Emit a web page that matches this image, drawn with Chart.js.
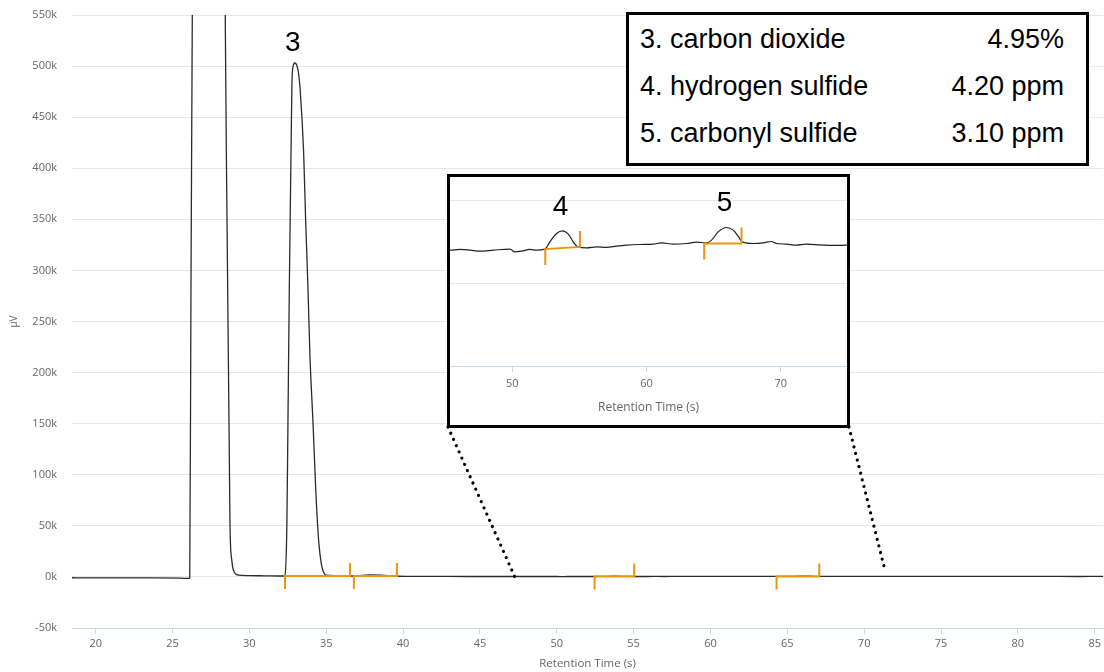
<!DOCTYPE html>
<html>
<head>
<meta charset="utf-8">
<script src="https://cdn.jsdelivr.net/npm/chart.js@4"></script>
<style>
  body { margin: 0; background: #fff; }
  #wrap { position: relative; width: 1104px; height: 672px; overflow: hidden; }
  #chart { position: absolute; left: 0; top: 0; }
  #inset {
    position: absolute; left: 447px; top: 174px; width: 403px; height: 254px;
    box-sizing: border-box; border: 3px solid #000; background: #fff; overflow: hidden;
  }
  #inset canvas { position: absolute; left: 0; top: 0; }
  #legend {
    position: absolute; left: 626px; top: 12px; width: 463px; height: 154px;
    box-sizing: border-box; border: 3px solid #000; background: #fff;
    padding: 1px 22px 0 11px;
    font-family: "Liberation Sans", Arial, sans-serif; font-size: 27px; color: #000;
  }
  #legend .row { display: flex; justify-content: space-between; height: 47px; line-height: 47px; }
</style>
</head>
<body>
<div id="wrap">
  <canvas id="chart" width="1104" height="672"></canvas>
  <div id="inset"><canvas id="zoom" width="397" height="248"></canvas></div>
  <div id="legend"></div>
</div>
<script>
// chromatogram trace (retention time in s, signal in µV)
const timeS = [
  18.4, 19.5, 21, 22.5, 24, 25.5, 26.0, 26.12,
  26.2, 26.29, 26.6, 27.3, 28.1, 28.43, 28.74, 28.86, 29.0, 29.3, 30.0, 31.0, 32.0, 32.2,
  32.31, 32.44, 32.51, 32.6, 32.71, 32.77, 32.85, 32.95, 33.08, 33.2, 33.3, 33.53, 33.66,
  33.81, 33.94, 34.14, 34.32, 34.51, 34.69, 34.85, 35.0, 35.6, 36.4, 37.0, 37.8, 38.6, 39.4,
  40.2, 41.5, 43.0, 44.3,
  45.37, 46.1, 46.85, 47.6, 48.6, 49.83, 50.2, 50.7, 51.3, 51.8, 52.43, 52.8, 53.3, 53.75,
  54.17, 54.54, 54.9, 55.54, 56.28, 57.03, 57.77, 58.5, 59.5, 60.5, 61.12, 62.0, 63.0,
  63.73, 64.47, 64.85, 65.34, 65.96, 66.46, 66.83, 67.16, 67.95, 68.7, 69.3, 69.7, 70.43,
  71.18, 71.9, 72.9, 73.9, 74.9, 76.0, 78.0, 80.0, 82.0, 84.0, 85.7,
];
const signalUV = [
  -800, -900, -900, -1000, -1000, -1200, -1500, -1200,
  280000, 560000, 1200000, 1600000, 1200000, 550000, 50000, 16000, 5000, 1800, 1300, 1100, 900, 900,
  1500, 51000, 151000, 284000, 416000, 483000, 500000, 503000, 501000, 493000, 478000, 416000, 350000,
  284000, 217000, 151000, 85000, 35000, 12000, 4000, 1700, 1200, 900, 1100, 1900, 1700, 900,
  600, 500, 450, 420,
  398, 406, 398, 386, 398, 410, 377, 386, 406, 398, 410, 498, 599, 630,
  590, 498, 437, 425, 437, 430, 446, 458, 466, 470, 486, 470, 478,
  494, 486, 518, 618, 671, 639, 566, 494, 478, 486, 502, 478, 470,
  458, 470, 462, 454, 458, 450, 440, 450, 440, 430, 440,
];

// integration baselines drawn by the software (start / end time, baseline level)
const intStart = [32.32, 36.8, 52.46, 64.3];
const intEnd = [36.55, 39.6, 55.04, 67.08];
const intBaseStart = [1000, 1000, 410, 478];
const intBaseEnd = [1000, 1000, 437, 478];

// numbered peaks
const peakNames = ["3", "4", "5"];
const peakTimes = [32.95, 53.75, 65.96];
const peakHeights = [503000, 630, 671];

// compounds table
const compounds = ["3. carbon dioxide", "4. hydrogen sulfide", "5. carbonyl sulfide"];
const amounts = ["4.95%", "4.20 ppm", "3.10 ppm"];

// axis ticks
const xTickValues = [20, 25, 30, 35, 40, 45, 50, 55, 60, 65, 70, 75, 80, 85];
const zoomXTicks = [50, 60, 70];
const zoomYTicks = [-1000, 0, 1000];

// where the zoom box is taken from on the main axis
const zoomEdges = [47.27, 71.33];
const zoomEdgeLevels = [0, 8000];

const points = timeS.map((t, i) => ({ x: t, y: signalUV[i] }));

// legend box
document.querySelector("#legend").innerHTML = compounds
  .map((c, i) => `<div class="row"><span>${c}</span><span>${amounts[i]}</span></div>`)
  .join("");

const axisFont = { family: "'Open Sans', sans-serif", size: 11 };

// orange integration marks
const integrationMarks = {
  id: "integrationMarks",
  afterDatasetsDraw(chart, args, opts) {
    const { ctx, chartArea, scales: { x, y } } = chart;
    ctx.save();
    ctx.beginPath();
    ctx.rect(chartArea.left, chartArea.top, chartArea.width, chartArea.height + 20);
    ctx.clip();
    ctx.strokeStyle = "#e8960f";
    ctx.lineWidth = 2;
    intStart.forEach((t0, i) => {
      const x0 = x.getPixelForValue(t0);
      const x1 = x.getPixelForValue(intEnd[i]);
      const y0 = y.getPixelForValue(intBaseStart[i]);
      const y1 = y.getPixelForValue(intBaseEnd[i]);
      ctx.beginPath();
      ctx.moveTo(x0, y0 + opts.tick);
      ctx.lineTo(x0, y0);
      ctx.lineTo(x1, y1);
      ctx.lineTo(x1, y1 - opts.tick);
      ctx.stroke();
    });
    ctx.restore();
  },
};

// big peak numbers
const peakNumbers = {
  id: "peakNumbers",
  afterDatasetsDraw(chart, args, opts) {
    const { ctx, scales: { x, y } } = chart;
    ctx.save();
    ctx.font = "28px 'Liberation Sans', Arial, sans-serif";
    ctx.fillStyle = "#000";
    ctx.textAlign = "center";
    ctx.textBaseline = "alphabetic";
    opts.show.forEach((i) => {
      const px = x.getPixelForValue(peakTimes[i]) - 2;
      const py = y.getPixelForValue(peakHeights[i]) - opts.gap;
      ctx.fillText(peakNames[i], px, py);
    });
    ctx.restore();
  },
};

// dotted lines from the zoom box down to the axis
const connectors = {
  id: "connectors",
  afterDraw(chart) {
    const { ctx, scales: { x, y } } = chart;
    const box = document.querySelector("#inset");
    const bottom = box.offsetTop + box.offsetHeight - 1;
    const corners = [box.offsetLeft + 1, box.offsetLeft + box.offsetWidth - 1];
    ctx.save();
    ctx.strokeStyle = "#000";
    ctx.lineWidth = 3.2;
    ctx.lineCap = "round";
    ctx.setLineDash([0.01, 6.8]);
    zoomEdges.forEach((t, i) => {
      ctx.beginPath();
      ctx.moveTo(corners[i], bottom);
      ctx.lineTo(x.getPixelForValue(t), y.getPixelForValue(zoomEdgeLevels[i]));
      ctx.stroke();
    });
    ctx.restore();
  },
};

// main chromatogram
new Chart(document.querySelector("#chart"), {
  type: "line",
  data: {
    datasets: [
      {
        data: points,
        borderColor: "#2b2b2b",
        borderWidth: 1.3,
        pointRadius: 0,
        cubicInterpolationMode: "monotone",
      },
    ],
  },
  options: {
    responsive: false,
    animation: false,
    layout: { padding: { top: 15, right: 0, left: 0, bottom: 0 } },
    plugins: {
      legend: { display: false },
      tooltip: { enabled: false },
      integrationMarks: { tick: 13 },
      peakNumbers: { show: [0], gap: 12 },
    },
    scales: {
      x: {
        type: "linear",
        min: 18.46,
        max: 85.55,
        afterBuildTicks: (s) => { s.ticks = xTickValues.map((v) => ({ value: v })); },
        afterFit: (s) => { s.height = 44; },
        ticks: { color: "#666", font: axisFont, padding: 3, maxRotation: 0 },
        grid: { drawOnChartArea: false, color: "#ccd6eb", tickLength: 6 },
        border: { color: "#ccd6eb" },
        title: {
          display: true,
          text: "Retention Time (s)",
          color: "#666",
          font: { family: "'Open Sans', sans-serif", size: 11.5 },
          padding: { top: 0, bottom: 1 },
        },
      },
      y: {
        min: -50000,
        max: 550000,
        afterFit: (s) => {
          s.width = 72;
          s.paddingTop = 0;
          s.paddingBottom = 0;
        },
        ticks: {
          stepSize: 50000,
          color: "#666",
          font: axisFont,
          padding: 15,
          callback: (v) => v / 1000 + "k",
        },
        grid: { color: "#e6e6e6", drawTicks: false },
        border: { display: false },
        title: {
          display: true,
          text: "µV",
          color: "#666",
          font: { family: "'Open Sans', sans-serif", size: 10 },
          padding: { top: 8, bottom: 0 },
        },
      },
    },
  },
  plugins: [integrationMarks, peakNumbers, connectors],
});

// zoomed view of peaks 4 and 5
new Chart(document.querySelector("#zoom"), {
  type: "line",
  data: {
    datasets: [
      {
        data: points,
        borderColor: "#222",
        borderWidth: 1.2,
        pointRadius: 0,
        cubicInterpolationMode: "monotone",
      },
    ],
  },
  options: {
    responsive: false,
    animation: false,
    layout: { padding: 0 },
    plugins: {
      legend: { display: false },
      tooltip: { enabled: false },
      integrationMarks: { tick: 16 },
      peakNumbers: { show: [1, 2], gap: 16 },
    },
    scales: {
      x: {
        type: "linear",
        min: 45.36,
        max: 74.94,
        afterBuildTicks: (s) => { s.ticks = zoomXTicks.map((v) => ({ value: v })); },
        afterFit: (s) => { s.height = 59; },
        ticks: { color: "#666", font: axisFont, padding: 5, maxRotation: 0 },
        grid: { drawOnChartArea: false, color: "#ccd6eb", tickLength: 6 },
        border: { color: "#ccd6eb" },
        title: {
          display: true,
          text: "Retention Time (s)",
          color: "#666",
          font: { family: "'Open Sans', sans-serif", size: 12 },
          padding: { top: 0, bottom: 10 },
        },
      },
      y: {
        min: -1000,
        max: 1280,
        afterBuildTicks: (s) => { s.ticks = zoomYTicks.map((v) => ({ value: v })); },
        afterFit: (s) => { s.width = 0; },
        ticks: { display: false },
        grid: { color: "#e6e6e6", drawTicks: false },
        border: { display: false },
      },
    },
  },
  plugins: [integrationMarks, peakNumbers],
});
</script>
</body>
</html>
